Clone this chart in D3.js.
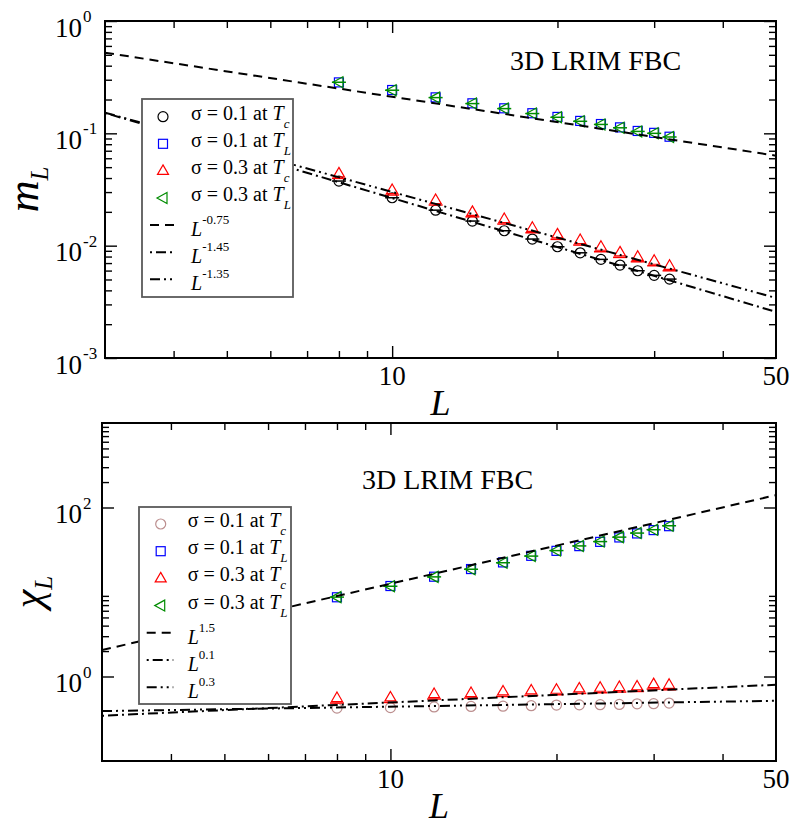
<!DOCTYPE html>
<html><head><meta charset="utf-8">
<script src="https://cdn.jsdelivr.net/npm/d3@7/dist/d3.min.js"></script>
<style>
body{margin:0;background:#fff}
svg{display:block}
text{font-family:"Liberation Serif","Times New Roman",Times,serif;fill:#000}
</style>
</head><body>
<svg id="c" width="794" height="826"></svg>
<script>
// ---------------- data ----------------
const L = [8,10,12,14,16,18,20,22,24,26,28,30,32];

// top panel: m_L
const m_s01_Tc = [0.0376,0.0267,0.0207,0.01656,0.01358,0.01145,0.00978,0.00864,0.00755,0.00672,0.00598,0.00544,0.00504];
const m_s01_TL = [0.284,0.243,0.209,0.185,0.167,0.151,0.140,0.129,0.121,0.113,0.105,0.101,0.0933];
const m_s03_Tc = [0.0440,0.0313,0.0255,0.0200,0.01726,0.01443,0.01261,0.01122,0.00978,0.00871,0.00796,0.00734,0.00662];
const m_s03_TL = [0.285,0.242,0.208,0.184,0.166,0.150,0.139,0.128,0.120,0.112,0.104,0.100,0.0928];

// bottom panel: chi_L
const chi_s01_Tc = [0.422,0.428,0.436,0.442,0.445,0.451,0.459,0.462,0.464,0.467,0.475,0.477,0.485];
const chi_s01_TL = [8.66,11.77,15.17,18.69,22.4,26.8,30.7,34.9,39.2,44.2,49.3,54.0,60.1];
const chi_s03_Tc = [0.556,0.565,0.620,0.637,0.665,0.684,0.697,0.722,0.736,0.750,0.762,0.813,0.798];
const chi_s03_TL = [8.70,11.70,15.10,18.60,22.2,26.6,30.9,35.1,39.5,44.6,49.8,54.6,60.8];

// power-law guide lines  (amplitude * L^exponent)
const fitTopExp = [-0.75, -1.45, -1.35];
const fitTopAmp = [1.19, 0.748, 0.673];
const fitBotExp = [1.5, 0.1, 0.3];
const fitBotAmp = [0.396, 0.349, 0.247];

// axes
const xDomain = [3, 50];
const xMajor = [10];
const xMinor = [4,5,6,7,8,9,20,30,40];
const xLabels = ["10","50"];
const xLabelVals = [10,50];

const yTopDomain = [1e-3, 1];
const yTopMajor = [1e-3,1e-2,1e-1,1];
const yTopExp = ["-3","-2","-1","0"];
const yBotDomain = [0.1, 1000];
const yBotMajor = [1, 100];
const yBotExp = ["0","2"];

const legendSigma = ["\u03c3 = 0.1 at ", "\u03c3 = 0.1 at ", "\u03c3 = 0.3 at ", "\u03c3 = 0.3 at "];
const legendSub = ["c","L","c","L"];
const legendTopFit = ["-0.75","-1.45","-1.35"];
const legendBotFit = ["1.5","0.1","0.3"];

// ---------------- drawing ----------------
const svg = d3.select("#c");
const DASH = "9,6", DOTDASH = "2,4,10,4", DASHDOTDOT = "10,4,2,4,2,4";

function minorTicks(major) {
  const out = [];
  major.forEach(m => { for (let k = 2; k <= 9; k++) out.push(m*k); });
  return out;
}

function marker(g, type, color, bar) {
  const sw = 1.2;
  if (type === "circle") {
    g.append("circle").attr("r",5).attr("fill","none").attr("stroke",color).attr("stroke-width",sw);
    if (bar) g.append("line").attr("x1",-7).attr("x2",7).attr("y1",0).attr("y2",0).attr("stroke",color).attr("stroke-width",1.5);
  } else if (type === "square") {
    g.append("rect").attr("x",-4.5).attr("y",-4.5).attr("width",9).attr("height",9).attr("fill","none").attr("stroke",color).attr("stroke-width",sw);
  } else if (type === "triUp") {
    g.append("path").attr("d","M0,-6L5.5,3.5L-5.5,3.5Z").attr("fill","none").attr("stroke",color).attr("stroke-width",sw);
    if (bar) g.append("line").attr("x1",-7).attr("x2",7).attr("y1",5).attr("y2",5).attr("stroke",color).attr("stroke-width",1.5);
  } else if (type === "triLeft") {
    g.append("path").attr("d","M-6,0L4,-5.5L4,5.5Z").attr("fill","none").attr("stroke",color).attr("stroke-width",sw);
    if (bar) g.append("line").attr("x1",-7).attr("x2",7).attr("y1",0).attr("y2",0).attr("stroke",color).attr("stroke-width",1.5);
  }
}

function drawPanel(p) {
  const g = svg.append("g");
  const x = d3.scaleLog().domain(xDomain).range([p.l, p.r]);
  const y = d3.scaleLog().domain(p.yDomain).range([p.b, p.t]);
  const clipId = "clip" + p.id;
  svg.append("clipPath").attr("id", clipId).append("rect")
    .attr("x", p.l).attr("y", p.t).attr("width", p.r - p.l).attr("height", p.b - p.t);

  // data symbols
  const pg = g.append("g").attr("clip-path", `url(#${clipId})`);
  p.series.forEach(s => {
    s.values.forEach((v, i) => {
      const mg = pg.append("g").attr("transform", `translate(${x(L[i])},${y(v)})`);
      marker(mg, s.type, s.color, s.bar);
    });
  });
  // guide lines
  p.fits.forEach(f => {
    const pts = xDomain.map(v => [x(v), y(f.amp * Math.pow(v, f.exp))]);
    pg.append("path").attr("d", d3.line()(pts)).attr("fill","none")
      .attr("stroke","#000").attr("stroke-width",2).attr("stroke-dasharray", f.dash);
  });

  // ticks (inward, mirrored)
  const tk = (axis, tr, vals, size) => {
    const a = g.append("g").attr("transform", tr)
      .call(axis.tickValues(vals).tickSize(size).tickFormat(""));
    a.select(".domain").remove();
    a.selectAll(".tick line").attr("stroke","#000").attr("stroke-width",1.4);
  };
  tk(d3.axisBottom(x), `translate(0,${p.b})`, xMajor, -12);
  tk(d3.axisBottom(x), `translate(0,${p.b})`, xMinor, -7);
  tk(d3.axisTop(x), `translate(0,${p.t})`, xMajor, -12);
  tk(d3.axisTop(x), `translate(0,${p.t})`, xMinor, -7);
  const yMin = minorTicks(p.yMinorBase).filter(v => v >= p.yDomain[0] && v <= p.yDomain[1]);
  tk(d3.axisLeft(y), `translate(${p.l},0)`, p.yMajor, -12);
  tk(d3.axisLeft(y), `translate(${p.l},0)`, yMin, -7);
  tk(d3.axisRight(y), `translate(${p.r},0)`, p.yMajor, -12);
  tk(d3.axisRight(y), `translate(${p.r},0)`, yMin, -7);

  // frame
  g.append("rect").attr("x",p.l).attr("y",p.t).attr("width",p.r-p.l).attr("height",p.b-p.t)
    .attr("fill","none").attr("stroke","#000").attr("stroke-width",2);

  // tick labels
  xLabelVals.forEach((v, i) => {
    g.append("text").attr("x", x(v)).attr("y", p.b + 27).attr("text-anchor","middle")
      .attr("font-size", 27).text(xLabels[i]);
  });
  p.yMajor.forEach((v, i) => {
    g.append("text").attr("x", 82).attr("y", y(v) + 15.5).attr("text-anchor","end")
      .attr("font-size", 27).text("10");
    g.append("text").attr("x", 83).attr("y", y(v) + 1).attr("text-anchor","start")
      .attr("font-size", 17).text(p.yExp[i]);
  });

  // axis titles
  g.append("text").attr("x", (p.l + p.r) / 2).attr("y", p.xTitleY)
    .attr("text-anchor","middle").attr("font-size", 36).attr("font-style","italic").text("L");
  const yt = g.append("text").attr("transform", `translate(${p.yTitleX},${(p.t+p.b)/2}) rotate(-90)`)
    .attr("text-anchor","middle").attr("font-style","italic");
  yt.append("tspan").attr("font-size", p.yTitleSize).text(p.yTitle);
  yt.append("tspan").attr("font-size", 25).attr("dy", 10).text("L");

  // panel title
  g.append("text").attr("x", p.titleX).attr("y", p.titleY).attr("font-size", 28).text("3D LRIM FBC");

  // legend
  const lg = p.legend;
  g.append("rect").attr("x", lg.x0).attr("y", lg.y0).attr("width", lg.x1 - lg.x0).attr("height", lg.y1 - lg.y0)
    .attr("fill","#fff").attr("stroke","#5a5a5a").attr("stroke-width",1.8);
  p.series.forEach((s, i) => {
    const ry = lg.rowY0 + i * lg.dy;
    const mg = g.append("g").attr("transform", `translate(${lg.symX},${ry})`);
    marker(mg, s.type, s.color, false);
    const t = g.append("text").attr("x", lg.textX).attr("y", ry + 3).attr("font-size", 20);
    t.append("tspan").text(legendSigma[i]);
    t.append("tspan").attr("font-style","italic").text("T");
    t.append("tspan").attr("font-style","italic").attr("font-size",13).attr("dy",8).text(legendSub[i]);
  });
  p.fits.forEach((f, j) => {
    const ry = lg.rowY0 + (p.series.length + j) * lg.dy;
    g.append("line").attr("x1", lg.lineX0).attr("x2", lg.lineX1).attr("y1", ry).attr("y2", ry)
      .attr("stroke","#000").attr("stroke-width",2).attr("stroke-dasharray", f.legendDash);
    const t = g.append("text").attr("x", lg.textX).attr("y", ry + 11).attr("font-size", 20);
    t.append("tspan").attr("font-style","italic").text("L");
    t.append("tspan").attr("font-size",13).attr("dy",-12).text(p.fitLabels[j]);
  });
}

const seriesTop = [
  {values: m_s01_Tc, type:"circle", color:"#000", bar:true},
  {values: m_s01_TL, type:"square", color:"#0000ff", bar:false},
  {values: m_s03_Tc, type:"triUp", color:"#ff0000", bar:true},
  {values: m_s03_TL, type:"triLeft", color:"#008c00", bar:true}
];
const seriesBot = [
  {values: chi_s01_Tc, type:"circle", color:"#bc8f8f", bar:false},
  {values: chi_s01_TL, type:"square", color:"#0000ff", bar:false},
  {values: chi_s03_Tc, type:"triUp", color:"#ff0000", bar:true},
  {values: chi_s03_TL, type:"triLeft", color:"#008c00", bar:true}
];

drawPanel({
  id:"top", l:105, t:21, r:776, b:358,
  yDomain: yTopDomain, yMajor: yTopMajor, yExp: yTopExp, yMinorBase:[1e-3,1e-2,1e-1],
  series: seriesTop,
  fits: [
    {exp: fitTopExp[0], amp: fitTopAmp[0], dash: DASH, legendDash: DASH},
    {exp: fitTopExp[1], amp: fitTopAmp[1], dash: DOTDASH, legendDash: DOTDASH},
    {exp: fitTopExp[2], amp: fitTopAmp[2], dash: DASHDOTDOT, legendDash: DASHDOTDOT}
  ],
  fitLabels: legendTopFit,
  yTitle: "m", yTitleSize: 44, yTitleX: 38, xTitleY: 415,
  titleX: 510, titleY: 70,
  legend: {x0:142, y0:99, x1:293, y1:297, rowY0:116.7, dy:27.1, symX:163, textX:191, lineX0:150, lineX1:176}
});

drawPanel({
  id:"bot", l:102, t:423, r:776, b:761,
  yDomain: yBotDomain, yMajor: yBotMajor, yExp: yBotExp, yMinorBase:[1, 100],
  series: seriesBot,
  fits: [
    {exp: fitBotExp[0], amp: fitBotAmp[0], dash: DASH, legendDash: DASH},
    {exp: fitBotExp[1], amp: fitBotAmp[1], dash: DASHDOTDOT, legendDash: DOTDASH},
    {exp: fitBotExp[2], amp: fitBotAmp[2], dash: DOTDASH, legendDash: DASHDOTDOT}
  ],
  fitLabels: legendBotFit,
  yTitle: "\u03c7", yTitleSize: 42, yTitleX: 42, xTitleY: 818,
  titleX: 362, titleY: 489,
  legend: {x0:139, y0:507, x1:291, y1:704, rowY0:524, dy:27.2, symX:160.7, textX:187.7, lineX0:146.7, lineX1:173.3}
});
</script>
</body></html>
